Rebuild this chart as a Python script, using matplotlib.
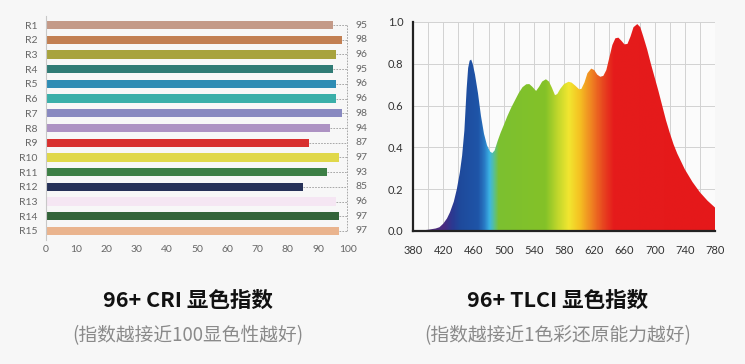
import numpy as np
import matplotlib
matplotlib.use("Agg")
import matplotlib.pyplot as plt
from matplotlib.colors import LinearSegmentedColormap, Normalize

plt.rcParams['font.family'] = ['Lato', 'Noto Sans CJK SC', 'DejaVu Sans']

# ---------------- data ----------------
cri_labels = ["R1", "R2", "R3", "R4", "R5", "R6", "R7", "R8", "R9", "R10",
              "R11", "R12", "R13", "R14", "R15"]
cri_values = [95, 98, 96, 95, 96, 96, 98, 94, 87, 97, 93, 85, 96, 97, 97]
cri_colors = ["#c49a88", "#c27f52", "#a8a33e", "#2f7b75", "#2e8cb4", "#3aafa9",
              "#8889c0", "#ad92c3", "#d8302f", "#e0d84a", "#3c7f45", "#263158",
              "#f5e6f3", "#33643a", "#eab48e"]
cri_xticks = [0, 10, 20, 30, 40, 50, 60, 70, 80, 90, 100]

wavelength = [380, 390, 400, 410, 415, 420, 425, 429, 434, 438, 442, 445, 448, 451,
              453, 455, 457, 459, 462, 466, 470, 474, 478, 482, 485, 488, 492, 496,
              500, 505, 510, 515, 520, 525, 530, 534, 538, 543, 547, 551, 556, 560,
              564, 568, 571, 575, 580, 586, 590, 595, 600, 603, 607, 611, 616, 620,
              624, 628, 632, 636, 640, 644, 648, 652, 656, 660, 664, 668, 672, 677,
              681, 685, 690, 695, 700, 705, 710, 715, 720, 725, 730, 740, 750, 760,
              770, 780]
intensity = [0.000, 0.002, 0.006, 0.012, 0.018, 0.035, 0.060, 0.090, 0.140, 0.200,
             0.280, 0.360, 0.480, 0.680, 0.780, 0.815, 0.820, 0.800, 0.750, 0.660,
             0.550, 0.465, 0.410, 0.380, 0.373, 0.385, 0.430, 0.470, 0.505, 0.550,
             0.590, 0.625, 0.660, 0.688, 0.702, 0.703, 0.690, 0.670, 0.690, 0.715,
             0.726, 0.715, 0.685, 0.650, 0.655, 0.680, 0.703, 0.714, 0.710, 0.695,
             0.678, 0.680, 0.710, 0.755, 0.777, 0.770, 0.748, 0.738, 0.742, 0.770,
             0.830, 0.890, 0.922, 0.925, 0.910, 0.893, 0.895, 0.930, 0.975, 0.990,
             0.975, 0.930, 0.870, 0.800, 0.735, 0.670, 0.600, 0.530, 0.470, 0.415,
             0.370, 0.295, 0.235, 0.185, 0.145, 0.112]
spec_xticks = [380, 420, 460, 500, 540, 580, 620, 660, 700, 740, 780]
spec_yticks = [0.0, 0.2, 0.4, 0.6, 0.8, 1.0]

# spectrum colour stops (wavelength, colour)
spec_stops = [(380, "#5a3a7a"), (420, "#4a2a80"), (432, "#2a3a92"), (442, "#1e4a9c"),
              (466, "#1f55a8"), (474, "#2a7cc6"), (481, "#3cb6e6"), (487, "#5cc08a"),
              (493, "#7cc030"), (555, "#84c228"), (572, "#c4d82c"), (586, "#f2e630"),
              (600, "#f5c222"), (614, "#f08a22"), (630, "#e84a20"), (645, "#e51c1c"),
              (780, "#e5181a")]

titles = ["96+ CRI 显色指数", "96+ TLCI 显色指数"]
subtitles = ["(指数越接近100显色性越好)", "(指数越接近1色彩还原能力越好)"]

# ---------------- figure ----------------
BG = "#f7f7f7"
fig = plt.figure(figsize=(7.45, 3.64), dpi=100, facecolor=BG)

# ---- left: CRI bars ----
ax1 = fig.add_axes([0.0613, 0.3412, 0.4062, 0.6143])
ax1.set_facecolor(BG)
ypos = np.arange(len(cri_labels))
ax1.barh(ypos, cri_values, height=0.56, color=cri_colors, zorder=2)
ax1.set_xlim(0, 100)
ax1.set_ylim(len(cri_labels) - 0.4, -0.6)
ax1.set_yticks(ypos)
ax1.set_yticklabels(cri_labels)
ax1.set_xticks(cri_xticks)
ax1.tick_params(axis='both', length=0, labelsize=7.5, labelcolor="#666666")
ax1.tick_params(axis='y', pad=6)
ax1.tick_params(axis='x', pad=4)
for s in ["top", "right", "bottom"]:
    ax1.spines[s].set_visible(False)
ax1.spines["left"].set_color("#c8c8c8")
ax1.spines["left"].set_linewidth(0.8)

xguide = 99.5
for y, v in zip(ypos, cri_values):
    ax1.plot([v, xguide], [y, y], color="#9a9a9a", lw=0.6, ls=(0, (2, 1.5)),
             clip_on=False, zorder=1)
    ax1.text(102.3, y, str(v), ha="left", va="center", fontsize=7.5,
             color="#666666", clip_on=False)
ax1.plot([xguide, xguide], [ypos[0], ypos[-1]], color="#9a9a9a", lw=0.6,
         ls=(0, (2, 1.5)), clip_on=False, zorder=1)

# ---- right: TLCI spectrum ----
ax2 = fig.add_axes([0.5544, 0.3654, 0.4054, 0.5742])
ax2.set_facecolor("#fbfbfb")
ax2.set_xlim(380, 780)
ax2.set_ylim(0, 1.0)
ax2.set_xticks(spec_xticks)
ax2.set_xticks(np.arange(380, 781, 20), minor=True)
ax2.set_yticks(spec_yticks)
ax2.set_yticklabels([f"{v:.1f}" for v in spec_yticks])
ax2.grid(which="both", color="#d2d2d2", lw=0.7)
ax2.set_axisbelow(True)
ax2.tick_params(which="both", length=0, labelsize=8, labelcolor="#333333")
ax2.tick_params(axis='x', pad=10)
ax2.tick_params(axis='y', pad=7)
for s in ["top", "right"]:
    ax2.spines[s].set_visible(False)
for s in ["left", "bottom"]:
    ax2.spines[s].set_color("#222222")
    ax2.spines[s].set_linewidth(1.6)
    ax2.spines[s].set_zorder(5)

lo, hi = spec_stops[0][0], spec_stops[-1][0]
cmap = LinearSegmentedColormap.from_list(
    "spec", [((w - lo) / (hi - lo), c) for w, c in spec_stops])
poly = ax2.fill_between(wavelength, 0, intensity, facecolor="none", edgecolor="none")
grad = np.atleast_2d(np.linspace(lo, hi, 800))
im = ax2.imshow(grad, extent=[lo, hi, 0, 1], aspect="auto", cmap=cmap,
                norm=Normalize(lo, hi), origin="lower", interpolation="bilinear",
                zorder=2)
im.set_clip_path(poly.get_paths()[0], transform=ax2.transData)
ax2.set_xlim(380, 780)
ax2.set_ylim(0, 1.0)

# ---- titles ----
cjk = ['Noto Sans CJK SC', 'DejaVu Sans']
for xc, t, st in zip([0.2517, 0.749], titles, subtitles):
    fig.text(xc, 1 - 300 / 364, t, ha="center", va="center", fontsize=15.5,
             fontweight="bold", color="#111111", family=cjk)
    fig.text(xc, 1 - 336 / 364, st, ha="center", va="center", fontsize=13.5,
             color="#8a8a8a", family=cjk)

fig.savefig("out.png", dpi=100, facecolor=BG)
